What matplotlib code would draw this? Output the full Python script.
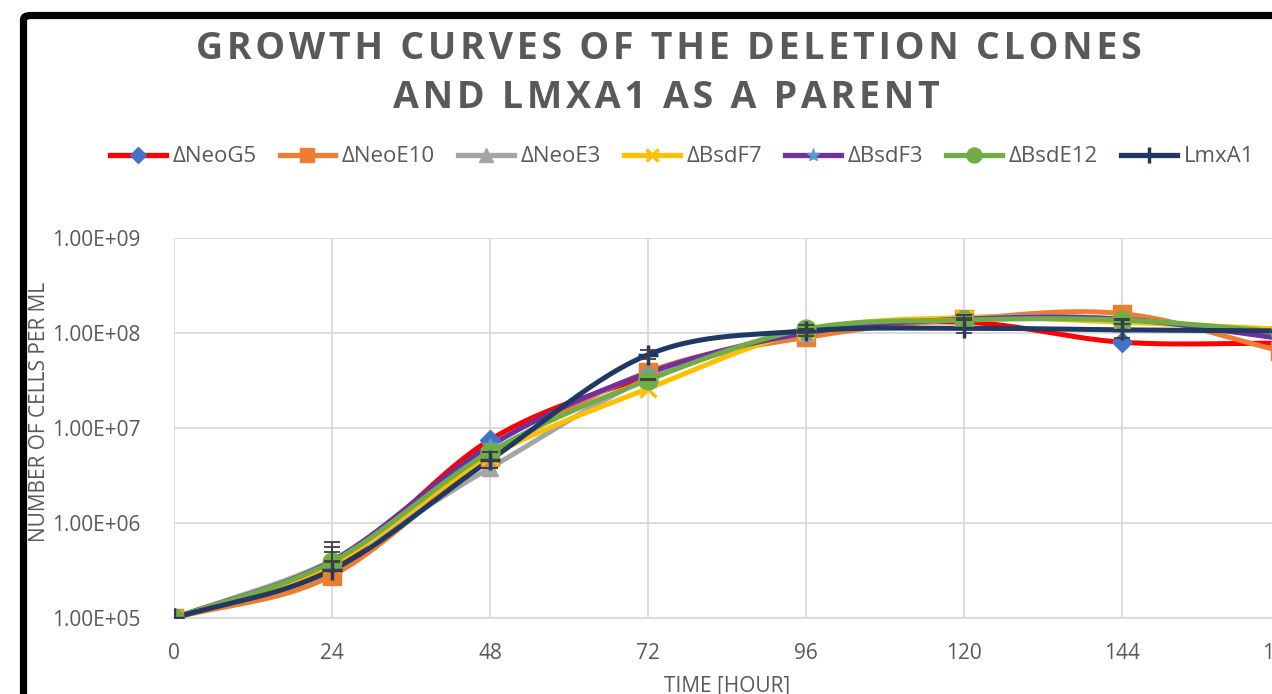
import matplotlib
matplotlib.use("Agg")
import matplotlib.pyplot as plt
import numpy as np
from matplotlib.patches import FancyBboxPatch

plt.rcParams["font.family"] = ["Open Sans", "DejaVu Sans"]

HOURS = [0, 24, 48, 72, 96, 120, 144, 168]

SERIES = ["\u0394NeoG5", "\u0394NeoE10", "\u0394NeoE3", "\u0394BsdF7",
          "\u0394BsdF3", "\u0394BsdE12", "LmxA1"]

NEO_G5 = [1e5, 3.4e5, 7.5e6, 3.5e7, 1.0e8, 1.3e8, 8.0e7, 7.8e7]
NEO_E10 = [1e5, 2.8e5, 5.0e6, 3.9e7, 9.0e7, 1.4e8, 1.6e8, 6.5e7]
NEO_E3 = [1e5, 4.0e5, 3.8e6, 3.3e7, 1.0e8, 1.45e8, 1.4e8, 9.5e7]
BSD_F7 = [1e5, 3.7e5, 5.0e6, 2.6e7, 1.05e8, 1.45e8, 1.3e8, 1.1e8]
BSD_F3 = [1e5, 4.0e5, 6.5e6, 3.8e7, 1.0e8, 1.4e8, 1.4e8, 8.8e7]
BSD_E12 = [1e5, 3.9e5, 5.6e6, 3.2e7, 1.1e8, 1.37e8, 1.37e8, 1.03e8]
LMXA1 = [1e5, 3.2e5, 4.6e6, 5.9e7, 1.05e8, 1.12e8, 1.08e8, 1.05e8]

# error bar tops / bottoms (same as value where no bar)
LMXA1_LOW = [1e5, 3.2e5, 4.6e6, 5.3e7, 9.2e7, 1.0e8, 8.8e7, 1.05e8]
LMXA1_HIGH = [1e5, 6.3e5, 4.6e6, 6.6e7, 1.2e8, 1.55e8, 1.25e8, 1.05e8]
NEO_E3_HIGH = [1e5, 5.6e5, 3.8e6, 3.3e7, 1.0e8, 1.55e8, 1.4e8, 9.5e7]
BSD_E12_HIGH = [1e5, 4.9e5, 5.6e6, 3.2e7, 1.1e8, 1.37e8, 1.37e8, 1.03e8]

VALUES = [NEO_G5, NEO_E10, NEO_E3, BSD_F7, BSD_F3, BSD_E12, LMXA1]
LINE_COLORS = ["#FF0000", "#ED7D31", "#A5A5A5", "#FFC000",
               "#7030A0", "#70AD47", "#1F3864"]
MARKER_COLORS = ["#4472C4", "#ED7D31", "#A5A5A5", "#FFC000",
                 "#5B9BD5", "#70AD47", "#1F3864"]
MARKERS = ["D", "s", "^", "x", "*", "o", "+"]
MARKER_SIZES = [10, 12.5, 12, 11, 12, 13.5, 15]

TITLE_1 = "GROWTH CURVES OF THE DELETION CLONES"
TITLE_2 = "AND LMXA1 AS A PARENT"

TEXT = "#595959"
GRID = "#D9D9D9"


def smooth(x, y, n=30):
    # catmull-rom through the points, in log space, like Excel's smoothed line
    x = np.asarray(x, float)
    ly = np.log10(y)
    px = np.concatenate([[2 * x[0] - x[1]], x, [2 * x[-1] - x[-2]]])
    py = np.concatenate([[2 * ly[0] - ly[1]], ly, [2 * ly[-1] - ly[-2]]])
    xs, ys = [], []
    t = np.linspace(0, 1, n)
    for i in range(1, len(px) - 2):
        for arr, out in ((px, xs), (py, ys)):
            p0, p1, p2, p3 = arr[i - 1], arr[i], arr[i + 1], arr[i + 2]
            seg = 0.5 * ((2 * p1) + (-p0 + p2) * t
                         + (2 * p0 - 5 * p1 + 4 * p2 - p3) * t ** 2
                         + (-p0 + 3 * p1 - 3 * p2 + p3) * t ** 3)
            out.extend(seg)
    return np.array(xs), 10 ** np.array(ys)


def spaced(s):
    # hair space between letters, for the wide Excel title tracking
    return "\u200a".join(s)


fig = plt.figure(figsize=(12.72, 6.94), dpi=100)
ax = fig.add_axes([174 / 1272, 1 - 618 / 694, 1106 / 1272, 380 / 694])

for name, vals, lc, mc, mk, ms in zip(SERIES, VALUES, LINE_COLORS,
                                      MARKER_COLORS, MARKERS, MARKER_SIZES):
    sx, sy = smooth(HOURS, vals)
    ax.plot(sx, sy, color=lc, lw=3.6, solid_capstyle="round", zorder=3)
    mew = 2.5 if mk in ("x", "+") else 1
    ax.plot(HOURS, vals, linestyle="none", marker=mk, ms=ms, color=mc,
            mec=mc, mew=mew, zorder=4)
    ax.plot([], [], color=lc, lw=3.8, marker=mk, ms=ms * 0.8, mfc=mc,
            mec=mc, mew=mew, label=name)

err_style = dict(fmt="none", ecolor="#404040", elinewidth=1.3, capsize=6,
                 capthick=1.3, zorder=5)
for vals, lo, hi in ((LMXA1, LMXA1_LOW, LMXA1_HIGH),
                     (NEO_E3, NEO_E3, NEO_E3_HIGH),
                     (BSD_E12, BSD_E12, BSD_E12_HIGH)):
    v = np.array(vals)
    yerr = [v - np.array(lo), np.array(hi) - v]
    ax.errorbar(HOURS, v, yerr=yerr, **err_style)

ax.set_yscale("log")
ax.set_ylim(1e5, 1e9)
ax.set_xlim(0, 168)
ax.set_xticks(HOURS)
ax.set_yticks([1e5, 1e6, 1e7, 1e8, 1e9])
ax.set_yticklabels(["1.00E+05", "1.00E+06", "1.00E+07", "1.00E+08", "1.00E+09"])
ax.yaxis.set_minor_locator(matplotlib.ticker.NullLocator())
ax.grid(True, color=GRID, lw=1.3)
ax.set_axisbelow(True)
for side in ("top", "right", "left"):
    ax.spines[side].set_visible(False)
ax.spines["bottom"].set_color(GRID)
ax.spines["bottom"].set_linewidth(1.3)
ax.tick_params(length=0, labelsize=15, labelcolor=TEXT)
ax.tick_params(axis="x", pad=18)
ax.tick_params(axis="y", pad=24)

fig.text(727 / 1272, 1 - 686 / 694, "TIME [HOUR]", ha="center", va="center",
         fontsize=15, color=TEXT)
fig.text(40 / 1272, 1 - 412 / 694, "NUMBER OF CELLS PER ML", ha="center",
         va="center", rotation=90, fontsize=15, color=TEXT)

fig.text(669 / 1272, 1 - 49 / 694, spaced(TITLE_1), ha="center", va="center",
         fontsize=27, fontweight="bold", color=TEXT)
fig.text(666 / 1272, 1 - 98 / 694, spaced(TITLE_2), ha="center", va="center",
         fontsize=27, fontweight="bold", color=TEXT)

leg = fig.legend(loc="center", bbox_to_anchor=(682 / 1272, 1 - 157 / 694),
                 ncol=7, frameon=False, fontsize=16, handlelength=2.5,
                 handletextpad=0.3, columnspacing=1.05)
for t in leg.get_texts():
    t.set_color(TEXT)

# black frame around the chart, running off the right and bottom edges
frame = FancyBboxPatch((23.5 / 1272, -0.2), 1.5, 1.2 - 15.5 / 694,
                       boxstyle="round,pad=0,rounding_size=0.006",
                       transform=fig.transFigure, fill=False,
                       edgecolor="black", lw=5.2, zorder=10)
fig.patches.append(frame)

fig.savefig("out.png", dpi=100)
